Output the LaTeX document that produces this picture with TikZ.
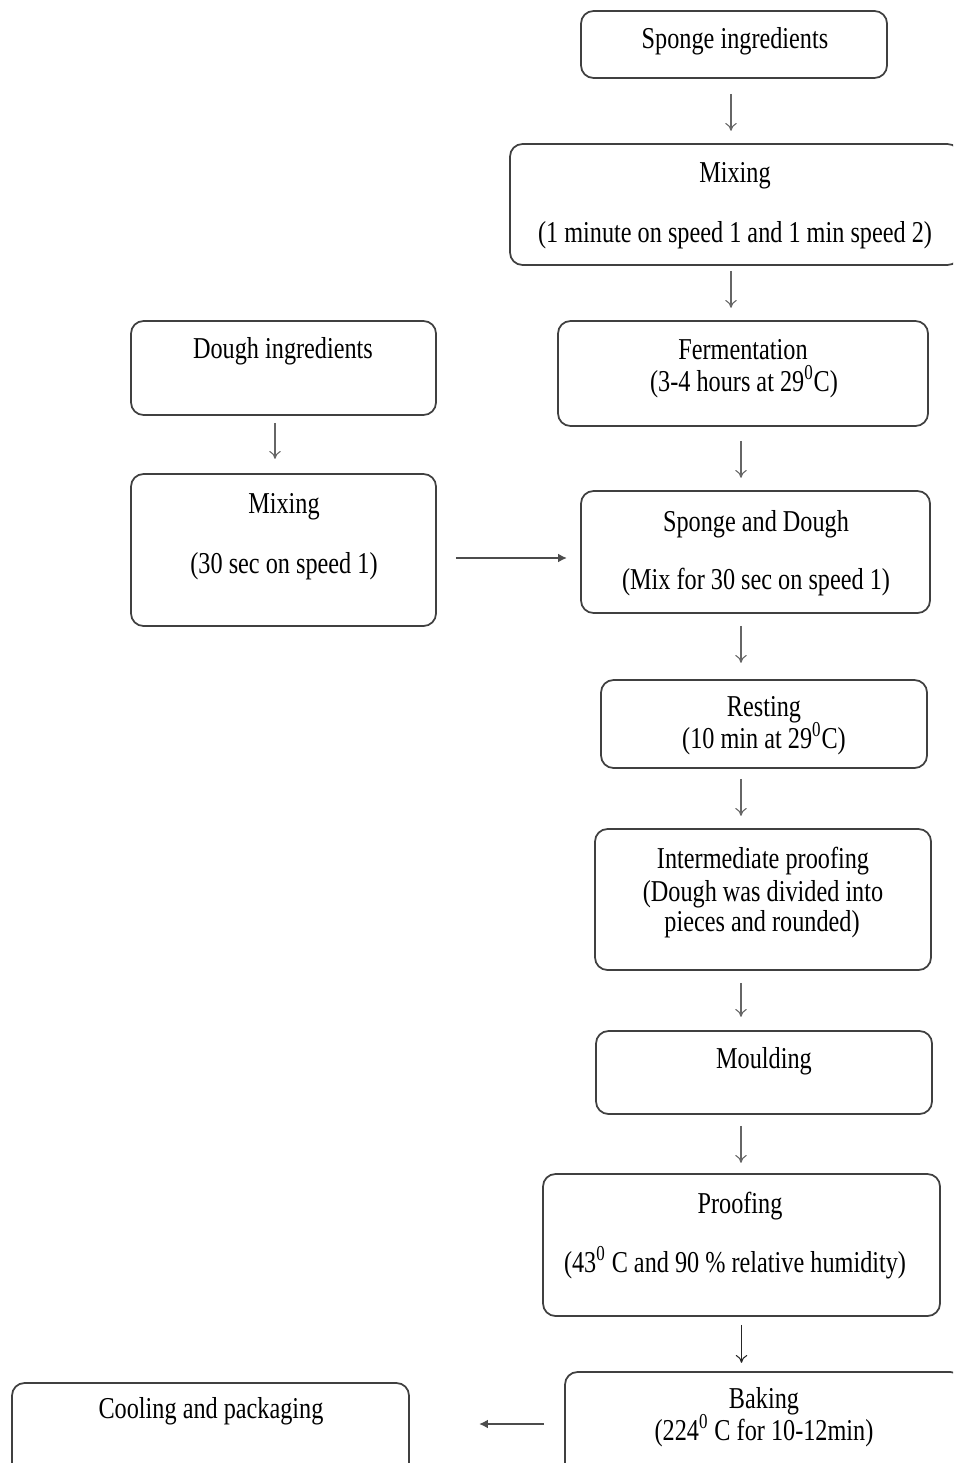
\documentclass[tikz,border=0pt]{standalone}
\usepackage{fontspec}
\setmainfont{Liberation Serif}
\usetikzlibrary{arrows.meta,calc}
\newcommand{\tx}[1]{\scalebox{1}[1.25]{#1}}
\begin{document}
\begin{tikzpicture}[x=0.02cm,y=-0.02cm,
  box/.style n args={2}{draw=black!75,line width=1pt,rounded corners=0.25cm,
    minimum width=#1*0.02cm,minimum height=#2*0.02cm,inner sep=0pt},
  txt/.style={anchor=base,inner sep=0pt,font=\fontsize{13.8}{16}\selectfont},
  arr/.style={draw=black!60,line width=0.6pt,-{To[length=4.5pt,width=6.5pt]}},
  harr/.style={draw=black!70,line width=0.8pt,-{Latex[length=5pt,width=5pt]}}]
\useasboundingbox (0,0) rectangle (953,1463);
\clip (0,0) rectangle (953,1463);
% boxes
\node[box={306}{67}]  (b1)  at (734,44.5) {};
\node[box={450}{121}] (b2)  at (735,204.5) {};
\node[box={305}{94}]  (b3)  at (283.5,368) {};
\node[box={370}{105}] (b4)  at (743,373.5) {};
\node[box={305}{152}] (b5)  at (283.5,550) {};
\node[box={349}{122}] (b6)  at (755.5,552) {};
\node[box={326}{88}]  (b7)  at (764,724) {};
\node[box={336}{141}] (b8)  at (763,899.5) {};
\node[box={336}{83}]  (b9)  at (764,1072.5) {};
\node[box={397}{142}] (b10) at (741.5,1245) {};
\node[box={398}{128}] (b11) at (764,1436) {};
\node[box={397}{127}] (b12) at (210.5,1446.5) {};
% texts
\node[txt] (t1)  at (735,49)  {\tx{Sponge ingredients}};
\node[txt] (t2a) at (735,183) {\tx{Mixing}};
\node[txt] (t2b) at (735,242) {\tx{(1 minute on speed 1 and 1 min speed 2)}};
\node[txt] (t3)  at (283,358) {\tx{Dough ingredients}};
\node[txt] (t4a) at (743,359) {\tx{Fermentation}};
\node[txt] (t4b) at (744,391) {\tx{(3-4 hours at 29\textsuperscript{0}C)}};
\node[txt] (t5a) at (284,513) {\tx{Mixing}};
\node[txt] (t5b) at (284,573) {\tx{(30 sec on speed 1)}};
\node[txt] (t6a) at (756,531) {\tx{Sponge and Dough}};
\node[txt] (t6b) at (756,589) {\tx{(Mix for 30 sec on speed 1)}};
\node[txt] (t7a) at (764,716) {\tx{Resting}};
\node[txt] (t7b) at (764,748) {\tx{(10 min at 29\textsuperscript{0}C)}};
\node[txt] (t8a) at (763,868) {\tx{Intermediate proofing}};
\node[txt] (t8b) at (763,901) {\tx{(Dough was divided into}};
\node[txt] (t8c) at (762,931) {\tx{pieces and rounded)}};
\node[txt] (t9)  at (764,1068) {\tx{Moulding}};
\node[txt] (t10a) at (740,1213) {\tx{Proofing}};
\node[txt] (t10b) at (735,1272) {\tx{(43\textsuperscript{0} C and 90 \% relative humidity)}};
\node[txt] (t11a) at (764,1408) {\tx{Baking}};
\node[txt] (t11b) at (764,1440) {\tx{(224\textsuperscript{0} C for 10-12min)}};
\node[txt] (t12) at (211,1418) {\tx{Cooling and packaging}};
% connectors
\draw[arr] (b1.south) ++(-3,15) -- ++(0,37);
\draw[arr] (b2.south) ++(-4,5) -- ++(0,37);
\draw[arr] (b3.south) ++(-8.5,7) -- ++(0,36);
\draw[arr] (b4.south) ++(-2,14) -- ++(0,37);
\draw[harr] (b5.east) ++(19,8) -- ++(111,0);
\draw[arr] (b6.south) ++(-14.5,12) -- ++(0,37);
\draw[arr] (b7.south) ++(-23,10) -- ++(0,37);
\draw[arr] (b8.south) ++(-22,12) -- ++(0,34);
\draw[arr] (b9.south) ++(-23,11) -- ++(0,37);
\draw[arr,draw=black!85] (b10.south) ++(0,8) -- ++(0,38);
\draw[harr] (b11.west) ++(-20,-12) -- ++(-65,0);
\end{tikzpicture}
\end{document}
